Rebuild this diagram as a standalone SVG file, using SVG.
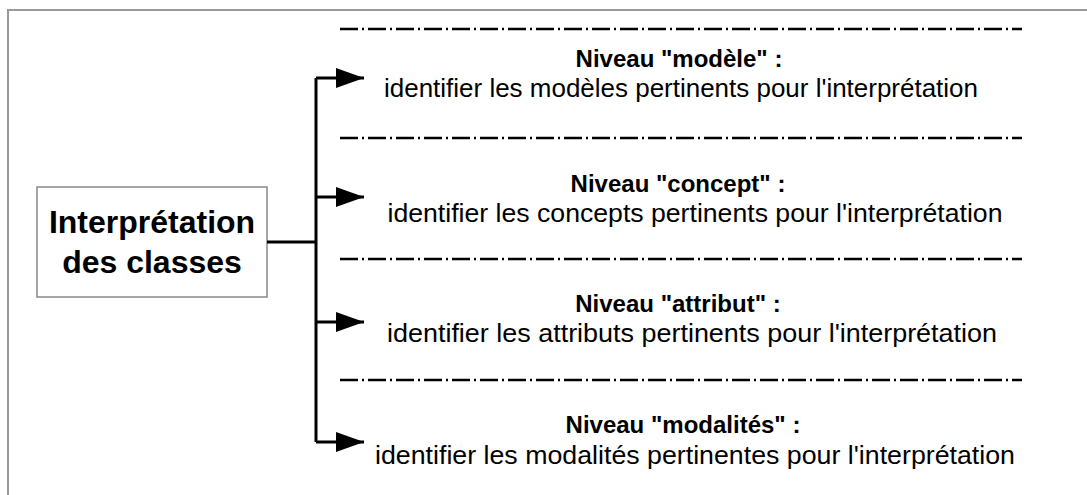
<svg xmlns="http://www.w3.org/2000/svg" width="1087" height="495" viewBox="0 0 1087 495">
<defs>
<style>
.frame{fill:none;stroke:#999;stroke-width:2}
.box{fill:#fff;stroke:#888;stroke-width:1.5}
.conn{fill:none;stroke:#000;stroke-width:3}
.sep{fill:none;stroke:#000;stroke-width:2.5;stroke-dasharray:18 4 2 4}
.title{font-family:"Liberation Sans",Arial,sans-serif;font-weight:bold;font-size:32px;fill:#000;text-anchor:middle}
.bold{font-family:"Liberation Sans",Arial,sans-serif;font-weight:bold;font-size:24px;fill:#000;text-anchor:middle}
.reg{font-family:"Liberation Sans",Arial,sans-serif;font-size:26px;fill:#000;text-anchor:middle}
</style>
<marker id="arrow" markerUnits="userSpaceOnUse" markerWidth="30" markerHeight="22" refX="28" refY="10" orient="auto">
<path d="M0,0 L28,10 L0,20 Z" fill="#000"/>
</marker>
</defs>
<rect width="1087" height="495" fill="#fff"/>
<path class="frame" d="M8,495 V10 H1087"/>
<g id="node-interpretation">
<rect class="box" x="37" y="187" width="230" height="110"/>
<text class="title" x="152" y="233">Interprétation</text>
<text class="title" x="152" y="273">des classes</text>
</g>
<g id="connectors">
<path class="conn" d="M267,242 H316"/>
<path class="conn" d="M316,78 V442"/>
<path class="conn" d="M316,78 H364" marker-end="url(#arrow)"/>
<path class="conn" d="M316,197 H364" marker-end="url(#arrow)"/>
<path class="conn" d="M316,322 H364" marker-end="url(#arrow)"/>
<path class="conn" d="M316,442 H364" marker-end="url(#arrow)"/>
</g>
<g id="separators">
<line class="sep" x1="340" y1="29" x2="1022" y2="29"/>
<line class="sep" x1="340" y1="138" x2="1022" y2="138"/>
<line class="sep" x1="340" y1="259" x2="1022" y2="259"/>
<line class="sep" x1="340" y1="380" x2="1022" y2="380"/>
</g>
<g id="node-modele">
<text class="bold" x="679" y="67">Niveau "modèle" :</text>
<text class="reg" x="681" y="97" textLength="594" lengthAdjust="spacingAndGlyphs">identifier les modèles pertinents pour l'interprétation</text>
</g>
<g id="node-concept">
<text class="bold" x="678" y="192">Niveau "concept" :</text>
<text class="reg" x="695" y="222" textLength="615" lengthAdjust="spacingAndGlyphs">identifier les concepts pertinents pour l'interprétation</text>
</g>
<g id="node-attribut">
<text class="bold" x="678" y="312">Niveau "attribut" :</text>
<text class="reg" x="692" y="342" textLength="610" lengthAdjust="spacingAndGlyphs">identifier les attributs pertinents pour l'interprétation</text>
</g>
<g id="node-modalites">
<text class="bold" x="683" y="433">Niveau "modalités" :</text>
<text class="reg" x="695" y="464" textLength="640" lengthAdjust="spacingAndGlyphs">identifier les modalités pertinentes pour l'interprétation</text>
</g>
</svg>
